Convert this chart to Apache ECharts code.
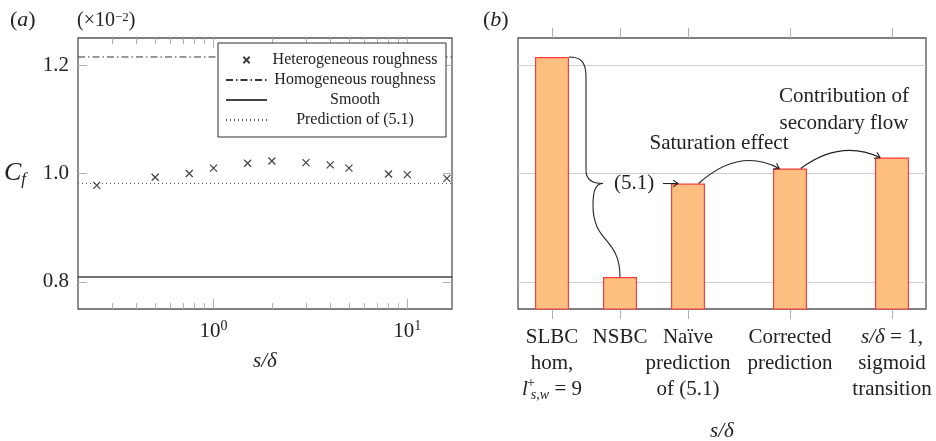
<!DOCTYPE html>
<html><head><meta charset="utf-8">
<script src="https://cdn.jsdelivr.net/npm/echarts@6/dist/echarts.min.js"></script>
<style>html,body{margin:0;padding:0;background:#fff}#c{width:936px;height:441px}</style>
</head><body><div id="c"></div>
<script>
// ---------- Panel (a) data ----------
const sOverDelta = [0.25, 0.5, 0.75, 1, 1.5, 2, 3, 4, 5, 8, 10, 16];
const cfHetero = [0.978, 0.993, 1.000, 1.010, 1.019, 1.023, 1.020, 1.016, 1.010, 0.999, 0.998, 0.991];
const cfHomogeneous = 1.215;
const cfSmooth = 0.809;
const cfPrediction = 0.9815;
const xRange = [0.2, 17];
const yRange = [0.75, 1.25];
const xMajorTicks = [1, 10];
const xMajorExp = ['0', '1'];
const xMinorTicks = [0.3, 0.4, 0.5, 0.6, 0.7, 0.8, 0.9, 2, 3, 4, 5, 6, 7, 8, 9];
const yTicks = [0.8, 1.0, 1.2];
const legendNames = ['Heterogeneous roughness', 'Homogeneous roughness', 'Smooth', 'Prediction of (5.1)'];
// ---------- Panel (b) data ----------
const barPositions = [0, 1, 2, 3.5, 5];
const barValues = [1.215, 0.809, 0.9815, 1.0093, 1.0296];
const barLabels = [
  'SLBC\nhom,\n{i|l}{sup|+}{sub|s,w} = 9',
  'NSBC',
  'Naïve\nprediction\nof (5.1)',
  'Corrected\nprediction',
  '{i|s/δ} = 1,\nsigmoid\ntransition'
];

const FONT = "'Liberation Serif','Times New Roman',serif";
const TXT = '#222';
const FRAME = '#555';
const TICK = '#b0b0b0';

const chart = echarts.init(document.getElementById('c'));

const richLabel = {
  i: {fontFamily: FONT, fontStyle: 'italic', fontSize: 21, color: TXT, lineHeight: 26},
  sup: {fontFamily: FONT, fontSize: 14, color: TXT, verticalAlign: 'top', lineHeight: 14, width: 0, padding: [0, 0, 0, 3]},
  sub: {fontFamily: FONT, fontStyle: 'italic', fontSize: 14, color: TXT, verticalAlign: 'bottom', lineHeight: 13}
};

const gridA = {left: 78, top: 38, width: 374, height: 271};
const gridB = {left: 518, top: 38, width: 408, height: 271};

function logAxis(pos, ticks, len, labels) {
  return {
    type: 'log', gridIndex: 0, position: pos, min: xRange[0], max: xRange[1], logBase: 10,
    axisLine: {show: false},
    axisTick: {show: true, inside: true, length: len, customValues: ticks, lineStyle: {color: TICK, width: 1}},
    axisLabel: labels ? {
      show: true, customValues: xMajorTicks, margin: 10,
      formatter: v => { const k = xMajorTicks.indexOf(v); return '{b|10}{e|' + (k >= 0 ? xMajorExp[k] : '') + '}'; },
      rich: {
        b: {fontFamily: FONT, fontSize: 21, color: TXT, lineHeight: 24},
        e: {fontFamily: FONT, fontSize: 14, color: TXT, verticalAlign: 'top', lineHeight: 14}
      }
    } : {show: false},
    splitLine: {show: false}, minorTick: {show: false},
    name: labels ? 's/δ' : '', nameLocation: 'middle', nameGap: 42,
    nameTextStyle: {fontFamily: FONT, fontStyle: 'italic', fontSize: 21, color: TXT}
  };
}

function hLine(name, value, color, width, type) {
  return {
    name: name, type: 'line', xAxisIndex: 0, yAxisIndex: 0, symbol: 'none', showSymbol: false,
    itemStyle: {color: color}, lineStyle: {color: color, width: width, type: type},
    data: [[xRange[0], value], [xRange[1], value]], z: 2
  };
}
const noSymbol = {color: 'rgba(0,0,0,0)', borderColor: 'rgba(0,0,0,0)', borderWidth: 0};

const option = {
  animation: false,
  backgroundColor: '#fff',
  textStyle: {fontFamily: FONT},
  grid: [
    Object.assign({show: true, borderColor: FRAME, borderWidth: 1.3, backgroundColor: 'transparent', containLabel: false, outerBoundsMode: 'none'}, gridA),
    Object.assign({show: true, borderColor: FRAME, borderWidth: 1.3, backgroundColor: 'transparent', containLabel: false, outerBoundsMode: 'none'}, gridB)
  ],
  legend: {
    orient: 'vertical', left: 218, top: 43,
    padding: [9, 8, 9, 7], itemGap: 4, itemWidth: 41, itemHeight: 14,
    borderColor: '#333', borderWidth: 1, backgroundColor: '#fff',
    data: [
      {name: legendNames[0], icon: 'path://M-6,-6M16,16M0,0L10,10M10,0L0,10'},
      {name: legendNames[1], itemStyle: noSymbol},
      {name: legendNames[2], itemStyle: noSymbol},
      {name: legendNames[3], itemStyle: noSymbol}
    ],
    formatter: n => '{t|' + n + '}',
    textStyle: {
      rich: {t: {width: 166, align: 'center', fontFamily: FONT, fontSize: 16, color: TXT, lineHeight: 14}}
    },
    selectedMode: false
  },
  xAxis: [
    logAxis('bottom', xMajorTicks, 10, true),
    logAxis('bottom', xMinorTicks, 6, false),
    logAxis('top', xMajorTicks, 10, false),
    logAxis('top', xMinorTicks, 6, false),
    {
      type: 'value', gridIndex: 1, position: 'bottom', min: -0.5, max: 5.5,
      axisLine: {show: false},
      axisTick: {show: true, inside: false, length: 10, customValues: barPositions, lineStyle: {color: TICK}},
      axisLabel: {
        show: true, customValues: barPositions, margin: 15, interval: 0,
        formatter: v => { const k = barPositions.indexOf(v); return k >= 0 ? barLabels[k] : ''; },
        fontFamily: FONT, fontSize: 21, color: TXT, lineHeight: 26, align: 'center',
        rich: richLabel
      },
      splitLine: {show: false},
      name: 's/δ', nameLocation: 'middle', nameGap: 112,
      nameTextStyle: {fontFamily: FONT, fontStyle: 'italic', fontSize: 21, color: TXT}
    },
    {
      type: 'value', gridIndex: 1, position: 'top', min: -0.5, max: 5.5,
      axisLine: {show: false},
      axisTick: {show: true, inside: false, length: 10, customValues: barPositions, lineStyle: {color: TICK}},
      axisLabel: {show: false}, splitLine: {show: false}
    }
  ],
  yAxis: [
    {
      type: 'value', gridIndex: 0, position: 'left', min: yRange[0], max: yRange[1],
      axisLine: {show: false},
      axisTick: {show: true, inside: true, length: 9, customValues: yTicks, lineStyle: {color: TICK}},
      axisLabel: {show: true, customValues: yTicks, margin: 9, formatter: v => v.toFixed(1),
        fontFamily: FONT, fontSize: 21, color: TXT},
      splitLine: {show: false},
      name: '{c|C}{f|f}', nameLocation: 'middle', nameRotate: 0, nameGap: 52,
      nameTextStyle: {rich: {
        c: {fontFamily: FONT, fontStyle: 'italic', fontSize: 26, color: TXT, lineHeight: 30},
        f: {fontFamily: FONT, fontStyle: 'italic', fontSize: 17, color: TXT, verticalAlign: 'bottom', lineHeight: 17}
      }}
    },
    {
      type: 'value', gridIndex: 0, position: 'right', min: yRange[0], max: yRange[1],
      axisLine: {show: false},
      axisTick: {show: true, inside: true, length: 9, customValues: yTicks, lineStyle: {color: TICK}},
      axisLabel: {show: false}, splitLine: {show: false}
    },
    {
      type: 'value', gridIndex: 1, position: 'left', min: yRange[0], max: yRange[1],
      axisLine: {show: false},
      axisTick: {show: false, customValues: yTicks},
      axisLabel: {show: false},
      splitLine: {show: true, lineStyle: {color: '#cfcfcf', width: 1}}
    }
  ],
  series: [
    {
      name: legendNames[0], type: 'scatter', xAxisIndex: 0, yAxisIndex: 0,
      symbol: 'path://M0,0L10,10M10,0L0,10', symbolSize: 7,
      itemStyle: {color: '#111', borderColor: '#111', borderWidth: 1.2},
      data: sOverDelta.map((s, i) => [s, cfHetero[i]]), z: 3
    },
    hLine(legendNames[1], cfHomogeneous, '#333', 1, [7, 3, 1.5, 3]),
    hLine(legendNames[2], cfSmooth, '#444', 1.3, 'solid'),
    hLine(legendNames[3], cfPrediction, '#555', 1, [1, 3]),
    {
      name: 'bars', type: 'bar', xAxisIndex: 4, yAxisIndex: 2, barWidth: 34,
      itemStyle: {color: '#FFBF80', borderColor: '#FF3B3B', borderWidth: 1.2},
      data: barPositions.map((x, i) => [x, barValues[i]]), z: 3
    }
  ]
};
chart.setOption(option);

// ---------- annotations for panel (b), anchored on bar tops ----------
const P = (x, y) => chart.convertToPixel({xAxisIndex: 4, yAxisIndex: 2}, [x, y]);
const lineSt = {stroke: '#222', lineWidth: 1.1, fill: null};
function arrowHead(ex, ey, fx, fy) {
  const dx = ex - fx, dy = ey - fy, L = Math.hypot(dx, dy) || 1;
  const ux = dx / L, uy = dy / L, a = 0.6, len = 6;
  const r = (ang) => [ex - len * (ux * Math.cos(ang) - uy * Math.sin(ang)), ey - len * (uy * Math.cos(ang) + ux * Math.sin(ang))];
  return {type: 'polyline', shape: {points: [r(a), [ex, ey], r(-a)]}, style: lineSt, z: 10};
}
function curveArrow(sx, sy, ex, ey, lift) {
  const cx = (sx + ex) / 2, cy = (sy + ey) / 2 - lift;
  return [
    {type: 'bezierCurve', shape: {x1: sx, y1: sy, x2: ex, y2: ey, cpx1: cx, cpy1: cy}, style: lineSt, z: 10},
    arrowHead(ex, ey, cx, cy)
  ];
}
const pSL = P(barPositions[0], barValues[0]);
const pNS = P(barPositions[1], barValues[1]);
const pNa = P(barPositions[2], barValues[2]);
const pCo = P(barPositions[3], barValues[3]);
const pSi = P(barPositions[4], barValues[4]);
const hb = 17;
const xA = pSL[0] + hb, yA = pSL[1];
const yT = pNa[1];
const els = [
  {type: 'bezierCurve', shape: {x1: xA, y1: yA, x2: xA + 17, y2: yA + 20, cpx1: xA + 12, cpy1: yA, cpx2: xA + 17, cpy2: yA + 5}, style: lineSt, z: 10},
  {type: 'line', shape: {x1: xA + 17, y1: yA + 20, x2: xA + 17, y2: yT - 13}, style: lineSt, z: 10},
  {type: 'bezierCurve', shape: {x1: xA + 17, y1: yT - 13, x2: xA + 34, y2: yT, cpx1: xA + 17, cpy1: yT - 4, cpx2: xA + 24, cpy2: yT}, style: lineSt, z: 10},
  {type: 'bezierCurve', shape: {x1: xA + 34, y1: yT, x2: xA + 24, y2: yT + 22, cpx1: xA + 27, cpy1: yT, cpx2: xA + 24, cpy2: yT + 6}, style: lineSt, z: 10},
  {type: 'bezierCurve', shape: {x1: xA + 24, y1: yT + 22, x2: pNS[0], y2: pNS[1], cpx1: xA + 24, cpy1: yT + 60, cpx2: pNS[0], cpy2: pNS[1] - 40}, style: lineSt, z: 10},
  {type: 'text', style: {text: '(5.1)', x: pNa[0] - hb - 37, y: yT, align: 'center', verticalAlign: 'middle', font: '21px ' + FONT, fill: TXT}, z: 10},
  {type: 'line', shape: {x1: pNa[0] - hb - 8, y1: yT, x2: pNa[0] - hb + 7, y2: yT}, style: lineSt, z: 10},
  arrowHead(pNa[0] - hb + 7, yT, pNa[0] - hb - 8, yT),
  ...curveArrow(pNa[0] + 10.6, yT, pCo[0] - 10.7, pCo[1], 29),
  ...curveArrow(pCo[0] + 10.7, pCo[1], pSi[0] - 12, pSi[1], 24),
  {type: 'text', style: {text: 'Saturation effect', x: (pNa[0] + pCo[0]) / 2 - 20, y: 143, align: 'center', verticalAlign: 'middle', font: '21px ' + FONT, fill: TXT}, z: 10},
  {type: 'text', style: {text: 'Contribution of\nsecondary flow', x: (pCo[0] + pSi[0]) / 2 + 3, y: 110, align: 'center', verticalAlign: 'middle', font: '21px ' + FONT, lineHeight: 26.5, fill: TXT}, z: 10},
  // panel labels
  {type: 'text', style: {text: '({i|a})', x: 10, y: 20, verticalAlign: 'middle', font: '22px ' + FONT, fill: TXT,
    rich: {i: {fontFamily: FONT, fontStyle: 'italic', fontSize: 22, color: TXT}}}, z: 10},
  {type: 'text', style: {text: '(×10{e|−2})', x: 77, y: 21, verticalAlign: 'middle', font: '20px ' + FONT, fill: TXT,
    rich: {e: {fontFamily: FONT, fontSize: 13, color: TXT, verticalAlign: 'top', lineHeight: 12}}}, z: 10},
  {type: 'text', style: {text: '({i|b})', x: 483, y: 20, verticalAlign: 'middle', font: '22px ' + FONT, fill: TXT,
    rich: {i: {fontFamily: FONT, fontStyle: 'italic', fontSize: 22, color: TXT}}}, z: 10}
];
chart.setOption({graphic: {elements: els}});
</script>
</body></html>
